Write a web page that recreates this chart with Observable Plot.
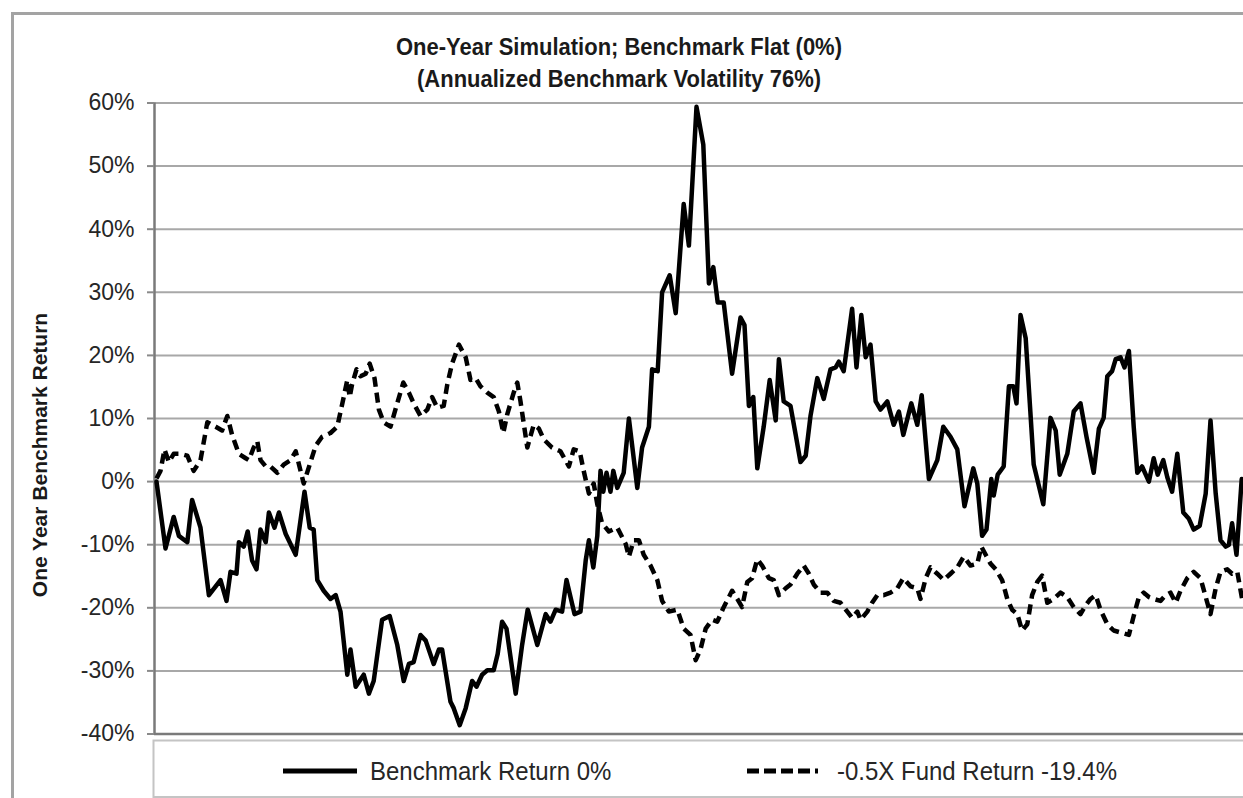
<!DOCTYPE html>
<html>
<head>
<meta charset="utf-8">
<script src="https://cdn.jsdelivr.net/npm/d3@7"></script>
<script src="https://cdn.jsdelivr.net/npm/@observablehq/plot@0.6"></script>
<style>
  html, body { margin: 0; padding: 0; background: #fff; }
  #wrap { position: relative; width: 1243px; height: 798px; overflow: hidden; font-family: "Liberation Sans", Arial, sans-serif; }
  #chart { position: absolute; left: 0; top: 0; }
  #overlay { position: absolute; left: 0; top: 0; pointer-events: none; }
</style>
</head>
<body>
<div id="wrap">
  <div id="chart"></div>
  <svg id="overlay" width="1243" height="798" font-family="Liberation Sans, Arial, sans-serif">
    <path d="M12.5 800 V13.5 H1250" fill="none" stroke="#a3a3a3" stroke-width="3"/>
    <g transform="translate(619,55) scale(1,1.12)"><text x="0" y="0" text-anchor="middle" font-size="22" font-weight="bold" fill="#1a1a1a">One-Year Simulation; Benchmark Flat (0%)</text></g>
    <g transform="translate(619,87) scale(1,1.12)"><text x="0" y="0" text-anchor="middle" font-size="22" font-weight="bold" fill="#1a1a1a">(Annualized Benchmark Volatility 76%)</text></g>
    <text transform="translate(46.5,455) rotate(-90)" text-anchor="middle" font-size="21" font-weight="bold" fill="#1a1a1a">One Year Benchmark Return</text>
    <rect x="153.5" y="740.5" width="1200" height="56.5" fill="none" stroke="#c4c4c4" stroke-width="2"/>
    <line x1="283" y1="771" x2="357" y2="771" stroke="#000" stroke-width="5"/>
    <g transform="translate(370,779.5) scale(1,1.1)"><text x="0" y="0" font-size="24" fill="#262626">Benchmark Return 0%</text></g>
    <line x1="747" y1="771" x2="818" y2="771" stroke="#000" stroke-width="5" stroke-dasharray="12,5"/>
    <g transform="translate(837,779.5) scale(1,1.1)"><text x="0" y="0" font-size="24" fill="#262626">-0.5X Fund Return -19.4%</text></g>
  </svg>
</div>
<script>
// ---- data ----
const yTicks = [-40, -30, -20, -10, 0, 10, 20, 30, 40, 50, 60];

const benchDay = [0,2.25,4.3,5.6,7.7,8.9,11,13.1,16,17.5,18.5,20,20.6,21.8,22.8,23.9,25,26,27.3,28.1,29.5,30.6,32.3,34.8,37,38.3,39.3,40.2,41.8,43.5,44.8,46,47.7,48.5,49.8,51.8,53.1,54.3,56.4,58.3,60.2,61.8,63.1,64.3,66,67.3,69.3,70.6,71.4,73.5,74.3,75.8,77.3,78.9,80,81.4,82.7,84.3,85.3,86.4,87.5,89.8,91.4,92.8,95.2,97.3,98.5,99.8,101.4,102.5,104.5,106,107.3,108.1,109.2,110.2,111,111.7,112.5,113.5,114.2,115.2,116.8,118.1,120.2,121.4,123.1,123.9,125.3,126.4,128.3,129.8,131.8,133.1,135,136.7,138.1,139.2,140.3,141.8,143.9,146,147,148.1,149.2,150.2,151.8,153.3,154.8,155.6,156.8,158.5,159.8,161,162.3,163.5,165.2,166.8,168.5,169.8,170.6,171.8,173.9,175,176.2,177.3,178.5,179.8,181,182.7,184.3,185.6,186.7,188.7,190.2,191.3,193.1,195.2,196.7,198.5,200.2,202,204.2,205.2,206.4,207.5,208.7,209.3,210.3,211.8,213.1,214.2,215,216,217.3,219.3,221.7,223.5,224.8,225.8,227.7,229.3,231,232.5,234.3,235.6,236.8,237.7,238.9,239.8,241,242,243.1,244.3,245.2,246.4,248.1,249.3,250.3,251.7,252.7,253.9,255.2,256.7,258.1,259.3,260.8,262.3,263.5,264.8,266,267.3,268.1,268.9,270,271.3];
const benchRet = [0,-10.6,-5.6,-8.6,-9.6,-2.9,-7.3,-18,-15.6,-18.9,-14.3,-14.6,-9.6,-10.3,-7.9,-12.5,-13.9,-7.6,-9.6,-4.9,-7.3,-4.9,-8.3,-11.6,-1.6,-7.3,-7.6,-15.6,-17.3,-18.6,-18,-20.6,-30.6,-26.6,-32.5,-30.6,-33.6,-31.6,-21.9,-21.3,-25.9,-31.6,-28.9,-28.6,-24.3,-25.2,-28.9,-26.6,-26.6,-34.9,-35.9,-38.6,-35.9,-31.6,-32.5,-30.6,-29.9,-29.9,-27.3,-22.2,-23.3,-33.6,-25.9,-20.3,-25.9,-21,-22.2,-20.3,-20.6,-15.6,-21,-20.6,-12.5,-9.3,-13.6,-8.6,1.7,-1.6,1.4,-1.6,1.7,-1,1.4,10,-1,5.4,8.7,17.8,17.5,30,32.7,26.7,44,37.4,59.4,53.4,31.4,34,28.4,28.4,17.1,26,24.8,12,13.4,2.1,8.7,16.1,9.7,19.4,12.7,12,7.4,3.1,4.1,10.4,16.4,13.1,17.8,18.1,19,17.5,27.4,18.1,26.4,19.7,21.7,12.7,11.4,12.7,9,11.1,7.4,12.4,9,13.7,0.4,3.4,8.7,7.1,5.1,-3.9,2.1,-0.3,-8.6,-7.6,0.4,-2.2,1.1,2.4,15.1,15.1,12.4,26.4,22.7,2.7,-3.6,10.1,8.1,1.1,4.4,11.1,12.4,7.1,1.4,8.4,10.1,16.7,17.5,19.4,19.7,18.1,20.7,8.7,1.4,2.4,0,3.7,1.1,3.4,0.7,-1.6,4.4,-4.9,-5.9,-7.6,-7,-1.9,9.7,-1.9,-9.3,-10.3,-10,-6.6,-11.6,0.4];

const fundDay = [0,1,2,3.1,4.3,6,7.7,9.3,11,12.7,14.8,16.4,17.7,18.9,20.6,22.3,23.1,24.3,25.2,26,27.3,28.5,30.2,31.8,33.5,34.8,36.8,38.3,39.8,41.4,43.5,45.2,46.7,47.7,48.3,48.9,50,51,52.3,53.3,54.5,55.6,56.8,58.5,60,61.7,63.1,64.3,66,67.7,68.9,70.2,71.8,72.7,73.9,75.6,77.3,78.5,79.8,81,82.7,84.3,85.6,86.7,87.7,89.3,90.2,91,92.7,94.3,95.6,96.8,98.9,101,103.1,104.3,105.8,106.8,108.1,109.3,110.2,111.4,113.1,115.2,117.3,118.1,119.3,120.6,121.8,123.5,125.2,126.4,128.1,130.2,131.8,133.5,134.8,136,137.3,138.9,140.2,141.8,143.9,145.2,146.4,147.7,148.9,150.2,151.4,153.1,154.3,155.6,157.3,158.5,160.2,161.8,163.1,164.3,166,167.7,169.3,171,172.7,173.9,175.2,176,177.7,178.9,180.2,181.8,183.5,185.2,186.7,188.5,190.2,191,192.3,193.5,195.2,196.8,198.5,200.2,201.8,203.5,205.2,206.2,207.3,208.5,209.8,211.4,212.7,213.9,215.2,216.4,217.7,218.9,220.2,221.4,222.7,224.3,226,227.7,229.3,231,232.3,233.5,234.8,236,237.7,239.3,241,243.1,244.3,245.6,246.8,248.1,249.3,251,252.3,253.5,254.8,256,257.7,259.3,261,262.7,263.5,264.8,266,267.7,268.9,270.2,271.4];
const fundRet = [0.5,1.7,5.1,3.1,4.4,4.4,4.1,1.7,3.4,9.4,8.7,8.1,10.4,7.4,4.4,3.7,3.4,5.4,6.4,3.4,2.4,2.4,1.4,2.7,3.4,4.8,-0.3,2.7,5.7,7.1,7.7,8.7,13.1,16.1,13.4,15.4,17.8,16.7,17.1,18.7,16.4,11.4,9.4,8.7,12,15.7,14.1,12.4,10.4,11.4,13.4,11.7,12,15.4,18.7,21.7,19.7,16.1,16.4,15.1,14.1,13.4,11.1,7.7,10.7,14.1,15.7,12.7,5.4,9,8.4,6.7,5.4,4.8,2.4,5.1,4.8,1.7,-1.9,-0.3,-3.6,-6.6,-7.9,-7.3,-9.9,-11.9,-9.3,-9.3,-11.6,-13.3,-15.6,-18.9,-20.6,-20.3,-23.3,-24.3,-28.3,-26.6,-23.3,-21.9,-22.2,-19.9,-17.3,-18.6,-19.9,-15.9,-15.3,-12.3,-13.3,-15.3,-15.6,-18,-16.9,-16.3,-14.6,-13.3,-14.6,-16.3,-17.6,-17.6,-18.9,-19.2,-20.6,-21.6,-20.6,-21.9,-20.6,-19.2,-18,-18,-17.6,-16.9,-15.3,-16.6,-16.9,-18.6,-15.3,-13.6,-14.6,-15.6,-14.6,-13.6,-11.9,-13.3,-13,-10.3,-11.6,-13,-13.9,-15.6,-18.6,-20.3,-21,-23.6,-22.6,-18,-15.9,-14.9,-19.2,-18.6,-17.6,-18.3,-19.9,-21,-19.6,-18.6,-18,-20.3,-22.6,-23.6,-23.9,-24.3,-21.3,-18.3,-17.6,-18.3,-18.6,-18.9,-18,-17.6,-19.2,-17.3,-15.3,-14.3,-15.3,-19.2,-21,-16.9,-14.3,-13.9,-14.6,-14.3,-18.6];

const dayDomain = [-0.5, 271.75];
const retDomain = [-40, 60];

// ---- chart ----
const chart = Plot.plot({
  width: 1243,
  height: 798,
  marginLeft: 154,
  marginRight: 0,
  marginTop: 102.5,
  marginBottom: 64.5,
  style: { fontFamily: "Liberation Sans, Arial, sans-serif", background: "transparent", color: "#262626" },
  x: { domain: dayDomain, axis: null },
  y: { domain: retDomain },
  marks: [
    Plot.gridY(yTicks, { stroke: "#a8a8a8", strokeOpacity: 1, strokeWidth: 2 }),
    Plot.ruleY([-40], { stroke: "#7a7a7a", strokeWidth: 2.5 }),
    Plot.ruleX([dayDomain[0]], { stroke: "#7a7a7a", strokeWidth: 2.5 }),
    Plot.axisY(yTicks, {
      tickFormat: d => d + "%",
      tickSize: 7,
      tickPadding: 13,
      fontSize: 23,
      stroke: "#8a8a8a",
      strokeWidth: 2,
      fill: "#262626",
      label: null
    }),
    Plot.line(fundRet, {
      x: fundDay, y: fundRet,
      stroke: "#000", strokeWidth: 4.5,
      strokeDasharray: "10,6", strokeLinecap: "butt", strokeLinejoin: "round"
    }),
    Plot.line(benchRet, {
      x: benchDay, y: benchRet,
      stroke: "#000", strokeWidth: 4.5,
      strokeLinejoin: "round", strokeLinecap: "round"
    })
  ]
});
document.getElementById("chart").appendChild(chart);
</script>
</body>
</html>
